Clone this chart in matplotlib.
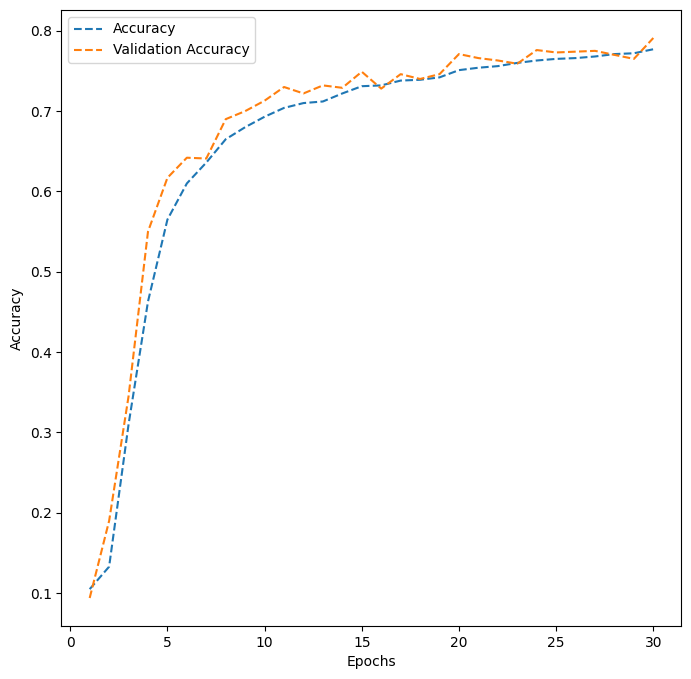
import matplotlib
matplotlib.use("Agg")
import matplotlib.pyplot as plt

epochs = list(range(1, 31))
accuracy = [0.105, 0.133, 0.31, 0.463, 0.565, 0.610, 0.636, 0.665, 0.680, 0.693,
            0.704, 0.710, 0.712, 0.722, 0.731, 0.732, 0.738, 0.739, 0.742, 0.751,
            0.754, 0.756, 0.760, 0.763, 0.765, 0.766, 0.768, 0.771, 0.772, 0.777]
val_accuracy = [0.094, 0.19, 0.345, 0.550, 0.617, 0.642, 0.641, 0.690, 0.700, 0.713,
                0.730, 0.722, 0.732, 0.729, 0.749, 0.728, 0.746, 0.740, 0.746, 0.771,
                0.766, 0.763, 0.759, 0.776, 0.773, 0.774, 0.775, 0.770, 0.765, 0.791]

W, H = 691, 679
fig = plt.figure(figsize=(W / 100, H / 100), dpi=100)
ax = fig.add_axes([61.5 / W, (H - 626) / H, 620 / W, 616 / H])
ax.plot(epochs, accuracy, linestyle='--', label='Accuracy')
ax.plot(epochs, val_accuracy, linestyle='--', label='Validation Accuracy')
ax.set_xlabel('Epochs')
ax.set_ylabel('Accuracy')
ax.legend(loc='upper left')
fig.savefig('out.png', dpi=100)
